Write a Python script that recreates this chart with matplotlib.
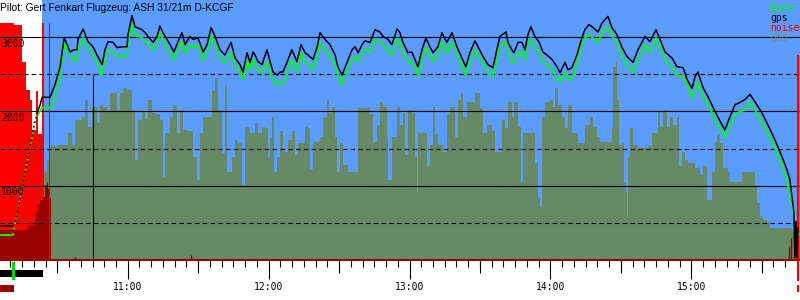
import matplotlib.pyplot as plt
from matplotlib import transforms
from matplotlib.patches import Rectangle

# time in minutes after midnight, altitude in m
gps_t = [605.6, 611.2, 612.0, 614.1, 616.3, 618.4, 619.7, 621.4, 622.7, 623.5,
         626.9, 629.0, 631.2, 632.5, 632.9, 634.2, 635.4, 637.1, 638.4, 638.8,
         641.0, 643.1, 645.2, 646.9, 649.1, 650.3, 651.6, 653.7, 655.4, 657.6,
         659.7, 660.1, 661.8, 663.1, 666.1, 667.4, 668.6, 670.8, 672.5, 673.7,
         675.0, 676.7, 678.0, 679.7, 681.4, 683.1, 684.4, 686.5, 687.8, 689.9,
         692.1, 693.8, 695.5, 697.2, 699.3, 701.4, 704.0, 705.7, 707.8, 709.1,
         710.8, 712.1, 713.4, 714.2, 715.5, 717.2, 719.3, 720.6, 721.9, 723.6,
         724.9, 726.1, 727.8, 729.9, 732.1, 733.8, 735.5, 736.8, 738.9, 740.6,
         741.9, 744.0, 746.1, 748.3, 749.5, 751.3, 753.4, 755.5, 756.8, 758.1,
         759.8, 761.0, 763.2, 765.3, 767.4, 768.7, 770.8, 772.5, 774.7, 775.9,
         777.2, 779.3, 781.0, 782.3, 783.6, 785.3, 787.0, 788.7, 790.0, 792.1,
         793.8, 795.9, 798.1, 800.2, 802.3, 804.0, 805.7, 807.9, 809.2, 811.3,
         813.4, 815.5, 817.2, 818.5, 821.1, 821.9, 823.6, 824.5, 826.2, 827.9,
         829.2, 830.4, 831.7, 833.4, 835.1, 836.8, 838.5, 840.7, 842.8, 844.1,
         846.2, 847.5, 849.2, 851.3, 853.4, 854.7, 856.4, 858.1, 860.3, 862.0,
         864.5, 866.2, 868.4, 870.5, 872.6, 875.2, 877.3, 880.3, 882.4, 885.0,
         886.7, 888.8, 891.8, 893.9, 896.5, 898.2, 900.3, 901.6, 902.8, 905.0,
         907.1, 909.2, 911.4, 914.3, 916.5, 918.6, 920.7, 922.8, 925.0, 927.1,
         930.1, 932.6, 935.6, 938.6, 940.7, 942.0, 942.9, 943.7, 944.1, 944.6,
         945.0, 945.4]
gps_alt = [460, 460, 500, 810, 1190, 1530, 1750, 1980, 2090, 2190,
           2190, 2360, 2600, 2900, 2990, 2900, 2800, 2830, 2830, 2970,
           3110, 2940, 2870, 2760, 2630, 2830, 2940, 2930, 2860, 2870,
           2870, 3030, 3290, 3140, 3100, 3060, 3010, 2930, 3010, 3150,
           3060, 2970, 2900, 2800, 2940, 3060, 2900, 3010, 2970, 2990,
           2800, 2900, 3130, 3010, 2830, 2760, 2930, 2720, 2630, 2530,
           2790, 2660, 2800, 2760, 2670, 2630, 2830, 2670, 2530, 2490,
           2530, 2530, 2660, 2830, 2670, 2900, 2790, 2760, 2700, 2860,
           3060, 2970, 2900, 2760, 2600, 2490, 2660, 2830, 2870, 2790,
           2900, 2950, 2930, 3100, 3070, 3010, 2970, 2900, 3110, 3060,
           2930, 2790, 2800, 2700, 2600, 2830, 2990, 2870, 2790, 2870,
           3060, 2930, 3060, 2870, 2720, 2600, 2790, 2950, 2870, 2740,
           2630, 2590, 2830, 3010, 3070, 2930, 2830, 2790, 2930, 2930,
           2830, 3030, 3140, 3010, 2940, 2800, 2760, 2700, 2600, 2520,
           2660, 2560, 2590, 2760, 2990, 3100, 3170, 3130, 3070, 3190,
           3280, 3130, 3030, 2860, 2740, 2660, 2830, 3010, 2940, 3100,
           2970, 2800, 2720, 2600, 2590, 2430, 2310, 2470, 2530, 2320,
           2200, 2060, 1920, 1750, 1930, 2090, 2120, 2160, 2230, 2130,
           1980, 1820, 1620, 1390, 1220, 1080, 850, 640, 30, 520,
           30, 430]

baro_t = [605.6, 611.2, 612.9, 615.0, 617.1, 619.3, 620.5, 621.8, 623.5, 626.9,
          629.0, 631.2, 632.5, 633.3, 634.2, 635.4, 637.1, 638.4, 638.8, 641.0,
          643.1, 645.2, 646.9, 649.1, 650.3, 651.6, 653.7, 655.4, 657.6, 659.7,
          660.1, 661.8, 663.1, 666.1, 667.4,
          668.6, 670.8, 672.5, 673.7, 675.0, 676.7, 678.0, 679.7, 681.4, 683.1,
          684.4, 686.5, 687.8, 689.9, 692.1, 693.8, 695.5, 697.2, 699.3, 701.4,
          704.0, 705.7, 707.8, 709.1, 710.8, 712.1, 713.4, 714.2, 715.5, 717.2,
          719.3, 720.6, 721.9, 723.6, 724.9, 726.1, 727.8, 729.9, 732.1, 733.8,
          735.5, 736.8, 738.9, 740.6, 741.9, 744.0, 746.1, 748.3, 749.5, 751.3,
          753.4, 755.5, 756.8, 758.1, 759.8, 761.0, 763.2, 765.3, 767.4, 768.7,
          770.8, 772.5, 774.7, 775.9, 777.2, 779.3, 781.0, 782.3, 783.6, 785.3,
          787.0, 788.7, 790.0, 792.1, 793.8, 795.9, 798.1, 800.2, 802.3, 804.0,
          805.7, 807.9, 809.2, 811.3, 813.4, 815.5, 817.2, 818.5, 821.1, 821.9,
          823.6, 824.5, 826.2, 827.9, 829.2, 830.4, 831.7, 833.4, 835.1, 836.8,
          838.5, 840.7, 842.8, 844.1, 846.2, 847.5, 849.2, 851.3, 853.4, 854.7,
          856.4, 858.1, 860.3, 862.0, 864.5, 866.2, 868.4, 870.5, 872.6, 875.2,
          877.3, 880.3, 882.4, 885.0, 886.7, 888.8, 891.8, 893.9, 896.5, 898.2,
          900.3, 901.6, 902.8, 905.0, 907.1, 909.2, 911.4, 914.3, 916.5, 918.6,
          920.7, 922.8, 925.0, 927.1, 930.1, 932.6, 935.6, 938.6, 940.7, 942.0,
          943.3, 944.1, 945.0, 946.3]
baro_alt = [340, 340, 640, 970, 1310, 1660, 1890, 1960, 2050, 2050,
            2200, 2470, 2800, 2930, 2830, 2740, 2720, 2670, 2830, 2990,
            2860, 2760, 2670, 2490, 2720, 2830, 2800, 2740, 2740, 2740,
            2930, 3170, 3030, 2990, 2940,
            2930, 2830, 2910, 3060, 2970, 2860, 2790, 2700, 2830, 2940,
            2790, 2900, 2860, 2900, 2700, 2790, 3020, 2900, 2720, 2660,
            2800, 2620, 2530, 2430, 2670, 2560, 2700, 2630, 2560, 2520,
            2670, 2530, 2400, 2360, 2390, 2370, 2520, 2700, 2530, 2790,
            2670, 2640, 2560, 2740, 2940, 2830, 2760, 2630, 2490, 2360,
            2530, 2700, 2740, 2670, 2790, 2830, 2800, 2970, 2940, 2900,
            2830, 2760, 2980, 2930, 2790, 2670, 2670, 2590, 2490, 2700,
            2860, 2760, 2670, 2760, 2940, 2790, 2940, 2760, 2620, 2490,
            2670, 2830, 2760, 2660, 2530, 2470, 2700, 2900, 2940, 2800,
            2670, 2660, 2800, 2790, 2700, 2900, 2990, 2870, 2800, 2670,
            2630, 2560, 2450, 2400, 2520, 2430, 2450, 2660, 2900, 2990,
            3030, 2990, 2930, 3060, 3140, 3010, 2940, 2740, 2630, 2530,
            2700, 2900, 2800, 2990, 2860, 2700, 2600, 2490, 2470, 2360,
            2180, 2290, 2400, 2200, 2090, 1960, 1820, 1650, 1820, 1960,
            2000, 2020, 2130, 2020, 1850, 1710, 1510, 1280, 1080, 880,
            680, 540, 370, 340]

gnd_t = [624.1, 625.5, 626.9, 630.5, 634.7, 636.2, 637.6, 640.4, 641.8, 643.2,
         644.7, 646.8, 648.2, 649.6, 651.1, 652.5, 655.3, 656.7, 658.1, 659.6,
         661.7, 663.1, 664.5, 666.0, 667.4, 668.8, 670.2, 671.6, 673.8, 675.2,
         675.9, 678.0, 679.4, 680.9, 682.3, 683.7, 685.1, 686.5, 687.9, 689.4,
         690.8, 692.2, 693.6, 695.8, 697.2, 698.6, 700.0, 701.4, 702.2, 704.3,
         705.7, 707.1, 708.5, 709.9, 712.1, 714.2, 715.6, 717.1, 718.5, 719.9,
         720.6, 721.3, 722.4, 723.5, 724.9, 726.3, 728.4, 729.8, 731.2, 732.6,
         734.8, 735.5, 736.9, 737.6, 739.0, 741.9, 743.3, 744.7, 745.7, 746.9,
         748.3, 749.0, 750.4, 751.8, 753.9, 756.8, 758.2, 761.0, 763.2, 764.6,
         766.0, 767.4, 768.8, 770.3, 771.0, 772.4, 774.5, 775.9, 777.4, 778.1,
         779.5, 780.9, 782.3, 783.1, 783.8, 785.9, 787.3, 788.7, 790.1, 790.9,
         792.3, 794.4, 795.8, 797.2, 799.4, 800.5, 801.9, 802.9, 804.4, 807.9,
         810.0, 811.4, 812.9, 815.0, 816.4, 817.8, 819.2, 820.7, 822.1, 823.5,
         824.6, 826.1, 827.5, 828.5, 832.0, 833.4, 834.6, 835.6, 836.3, 837.7,
         839.8, 841.2, 842.0, 843.4, 844.8, 846.2, 847.6, 849.0, 851.2, 851.9,
         854.7, 856.9, 858.3, 859.7, 861.1, 865.4, 866.1, 866.7, 867.8, 868.5,
         869.2, 870.6, 871.5, 872.1, 872.5, 873.2, 873.9, 875.3, 877.4, 881.7,
         883.1, 884.5, 885.7, 886.7, 888.1, 889.5, 890.9, 892.3, 893.8, 894.8,
         895.9, 897.3, 898.7, 901.6, 903.7, 905.1, 906.5, 908.7, 910.1, 910.8,
         912.2, 913.6, 915.7, 916.5, 920.7, 921.4, 926.4, 927.1, 927.8, 929.2,
         930.6, 932.1, 933.5, 942.7, 946.3]
gnd_alt = [1190, 1350, 1530, 1550, 1710, 1550, 1890, 1930, 2160, 1790,
           2060, 1850, 2090, 2060, 2020, 2250, 2020, 2250, 2320, 2290,
           2020, 1350, 1890, 2000, 1900, 2160, 1980, 1960, 1890, 1120,
           1710, 1930, 2090, 1710, 2020, 1750, 1730, 1730, 1390, 1080,
           1710, 1920, 1920, 2270, 2450, 2020, 1440, 2360, 1180, 1390,
           1620, 1580, 1010, 1790, 1710, 1850, 1710, 1790, 1780, 1390,
           1660, 1930, 1180, 1390, 1730, 1460, 1620, 1730, 1420, 1580,
           1580, 1790, 1780, 1220, 1590, 1650, 1920, 2160, 1980, 2060,
           1660, 1180, 1580, 1280, 1190, 1190, 2050, 2050, 1960, 1590,
           1820, 2130, 2060, 1660, 1080, 1660, 2060, 1820, 1980, 1420,
           2020, 1980, 1390, 920, 1710, 1710, 1260, 1550, 2060, 1690,
           1550, 1460, 1960, 2060, 1660, 2160, 2250, 1920, 2130, 2250,
           2050, 1710, 1820, 1730, 1460, 1460, 1890, 1780, 2130, 1920,
           2130, 1790, 1050, 1710, 1710, 1310, 850, 720, 1920, 2130,
           2160, 2060, 2320, 2090, 1920, 1780, 2090, 1710, 1710, 1580,
           1820, 1920, 1790, 1650, 1590, 1590, 1780, 2600, 2670, 2160,
           1550, 1580, 1040, 910, 580, 1390, 1780, 1550, 1510, 1530,
           1710, 1710, 2000, 1790, 2020, 1790, 1930, 1820, 1930, 1260,
           1460, 1350, 1310, 1240, 1150, 1260, 810, 1180, 1590, 1690,
           1580, 1240, 1180, 1050, 1050, 1190, 1190, 1010, 770, 580,
           540, 510, 430, 410, 410]

# noise, drawn on the altitude scale
noise_t = [605.6, 611.6, 615.0, 616.7, 618.4, 619.3, 621.0, 621.8, 623.5, 624.4]
noise_val = [3190, 3170, 2670, 2290, 2160, 1750, 2270, 1690, 3190, 0]
enl_t = [605.6, 617.1, 618.0, 618.4, 620.5, 621.8, 622.7, 623.9, 624.8, 625.6, 626.2, 626.9, 627.3]
enl_val = [410, 430, 570, 475, 640, 750, 810, 850, 1010, 1050, 950, 840, 0]
spike_t = [637.6, 686.9, 941.6, 942.4]
spike_val = [45, 70, 180, 300]

takeoff_t = 611.2
tow_end_gps = 621.4
tow_end_baro = 621.8
release_t, release_alt = 645.2, 2490
start_line_t = 626.5
end_line_t = 945.4
flight_start = 623.5
t_min, t_max = 605.6, 946.3

hours = [660, 720, 780, 840, 900]
hour_labels = ['11:00', '12:00', '13:00', '14:00', '15:00']
half_hours = [630, 690, 750, 810, 870, 930]
five_min = [t for t in range(610, 947, 5)]

sky = '#5a9cff'
gnd_col = '#678a66'
dark_red = '#990000'
mono = 'DejaVu Sans Mono'

fig = plt.figure(figsize=(8, 3), dpi=100)
ax = fig.add_axes([0, 40/300, 1, 260/300])
ax.set_xlim(t_min, t_max)
ax.set_ylim(0, 3500)
for s in ax.spines.values():
    s.set_visible(False)
bt = transforms.blended_transform_factory(ax.transData, ax.transAxes)

ax.axvspan(flight_start, t_max, color=sky, lw=0, zorder=0)
ax.fill_between(gnd_t, 0, gnd_alt, step='post', color=gnd_col, lw=0, zorder=1)
ax.fill_between(noise_t, 0, noise_val, step='post', color='red', lw=0, zorder=2)
ax.fill_between(enl_t, 0, enl_val, step='post', color=dark_red, lw=0, zorder=3)
ax.vlines(spike_t, 0, spike_val, color=dark_red, lw=1, zorder=3)

for v in (1000, 2000, 3000):
    ax.axhline(v, color='black', lw=0.8, zorder=4)
for v in (500, 1500, 2500):
    ax.axhline(v, color='black', lw=0.8, ls=(0, (4, 3)), zorder=4)

ax.vlines(release_t, 0, release_alt, color='black', lw=0.8, zorder=4)
ax.vlines(start_line_t, 0, 3190, color='red', lw=0.8, zorder=4)
ax.vlines(end_line_t, -21/260, 0.788, transform=bt, color='red', lw=1.5,
          zorder=6, clip_on=False)

# baro / gps traces; the aerotow part is dotted
def split(t, a, t0, t1):
    i0 = next(i for i, v in enumerate(t) if v >= t0)
    i1 = next(i for i, v in enumerate(t) if v >= t1)
    return (t[:i0+1], a[:i0+1]), (t[i0:i1+1], a[i0:i1+1]), (t[i1:], a[i1:])

for t, a, c, lw, te in [(baro_t, baro_alt, '#00ff00', 1.3, tow_end_baro),
                        (gps_t, gps_alt, 'black', 1.1, tow_end_gps)]:
    g, tow, fl = split(t, a, takeoff_t, te)
    ax.plot(*g, color=c, lw=lw, zorder=7)
    ax.plot(*tow, color=c, lw=lw, ls=(0, (1, 2)), zorder=7)
    ax.plot(*fl, color=c, lw=lw, zorder=7)

ax.axhline(0, color=dark_red, lw=1.5, zorder=8, clip_on=False)

# time axis
ax.set_yticks([])
ax.set_xticks(hours)
ax.set_xticklabels([])
ax.set_xticks(five_min, minor=True)
ax.tick_params(axis='x', which='major', length=19*0.72, width=0.8, color='black')
ax.tick_params(axis='x', which='minor', length=7*0.72, width=0.8, color='black')
ax.vlines(half_hours, -13/260, 0, transform=bt, color='black', lw=0.8, clip_on=False)
for h, lab in zip(hours, hour_labels):
    ax.text(h, -30/260, lab, transform=bt, ha='center', va='baseline',
            family=mono, size=7)

# status bars under the axis
ax.add_patch(Rectangle((t_min, -17/260), flight_start + 0.5 - t_min, 7/260,
                       transform=bt, color='black', lw=0, clip_on=False))
ax.add_patch(Rectangle((t_min, -32/260), takeoff_t + 0.4 - t_min, 7/260,
                       transform=bt, color=dark_red, lw=0, clip_on=False))
ax.add_patch(Rectangle((takeoff_t - 0.6, -20/260), 1.3, 18/260,
                       transform=bt, color='#00dd00', lw=0, clip_on=False))
ax.vlines(end_line_t, -32/260, -25/260, transform=bt, color='red', lw=1.5, clip_on=False)

# altitude labels
lab_tr = transforms.offset_copy(
    transforms.blended_transform_factory(ax.transAxes, ax.transData),
    fig=fig, x=1, y=-9.5, units='dots')
for v in (1000, 2000, 3000):
    ax.text(0, v, str(v), transform=lab_tr, ha='left', va='baseline',
            family=mono, size=7, zorder=9)

fig.text(0.0005, 1 - 11/300, 'Pilot: Gert Fenkart Flugzeug: ASH 31/21m D-KCGF',
         family='Liberation Sans', size=7.4, va='baseline')

for i, (name, c) in enumerate([('baro', '#00ff00'), ('gps', 'black'),
                               ('noise', 'red'), ('gnd', '#7a9068')]):
    fig.text(770/800, 1 - (11 + 10*i)/300, name, color=c, family=mono,
             size=7, va='baseline')

fig.savefig('out.png', dpi=100)
